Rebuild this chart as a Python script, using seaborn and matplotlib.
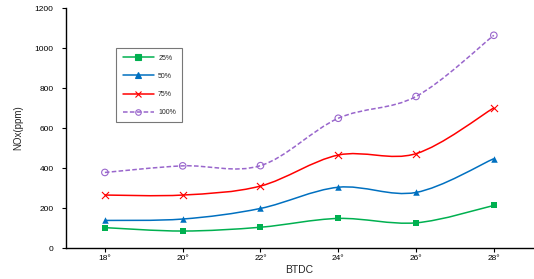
import numpy as np
import pandas as pd
import matplotlib
matplotlib.use("Agg")
import matplotlib.pyplot as plt
from matplotlib.path import Path
from matplotlib.patches import PathPatch
from matplotlib.lines import Line2D
import seaborn as sns

timing = [18, 20, 22, 24, 26, 28]
tick_labels = ["18°", "20°", "22°", "24°", "26°", "28°"]
load_25 = [102, 85, 104, 148, 126, 213]
load_50 = [138, 145, 198, 304, 278, 447]
load_75 = [265, 265, 310, 465, 472, 701]
load_100 = [378, 411, 412, 649, 758, 1064]
series_names = ["25%", "50%", "75%", "100%"]

sns.set_theme(style="white")
plt.rcParams["font.family"] = ["Liberation Sans", "DejaVu Sans"]

df = pd.DataFrame({
    "BTDC": timing * 4,
    "NOx": load_25 + load_50 + load_75 + load_100,
    "Load": sum([[n] * len(timing) for n in series_names], []),
})

colors = {"25%": "#00B050", "50%": "#0070C0", "75%": "#FF0000", "100%": "#9966CC"}
markers = {"25%": "s", "50%": "^", "75%": "x", "100%": "o"}
styles = {"25%": "-", "50%": "-", "75%": "-", "100%": (0, (3, 1.5))}

fig = plt.figure(figsize=(5.34, 2.79), dpi=100)
ax = fig.add_axes([0.1236, 0.111, 0.874, 0.86])


def smooth_path(xs, ys):
    pts = np.column_stack([xs, ys]).astype(float)
    verts = [pts[0]]
    codes = [Path.MOVETO]
    n = len(pts)
    for i in range(n - 1):
        p0 = pts[i - 1] if i > 0 else pts[i]
        p1 = pts[i]
        p2 = pts[i + 1]
        p3 = pts[i + 2] if i + 2 < n else pts[i + 1]
        c1 = p1 + (p2 - p0) / 6.0
        c2 = p2 - (p3 - p1) / 6.0
        verts += [c1, c2, p2]
        codes += [Path.CURVE4] * 3
    return Path(verts, codes)


handles = []
for name in series_names:
    sub = df[df["Load"] == name]
    c = colors[name]
    patch = PathPatch(smooth_path(sub["BTDC"].values, sub["NOx"].values),
                      facecolor="none", edgecolor=c, lw=1.1, linestyle=styles[name], zorder=2)
    ax.add_patch(patch)
    mfc = "none" if name == "100%" else c
    sns.scatterplot(x=sub["BTDC"], y=sub["NOx"], ax=ax, marker=markers[name],
                    s=22 if name != "75%" else 26, color=c, facecolor=mfc,
                    edgecolor=c, linewidth=0.8 if name in ("75%", "100%") else 0,
                    zorder=3, legend=False)
    handles.append(Line2D([], [], color=c, lw=1.1, linestyle=styles[name],
                          marker=markers[name], markersize=4,
                          markerfacecolor=mfc, markeredgecolor=c, markeredgewidth=0.8))

ax.set_xlim(17, 29)
ax.set_ylim(0, 1200)
ax.set_yticks(range(0, 1201, 200))
ax.set_xticks(timing)
ax.set_xticklabels(tick_labels)
ax.tick_params(axis="both", labelsize=6, length=3, width=0.8, direction="out",
               bottom=True, left=True, colors="black")
ax.tick_params(axis="x", pad=2)
ax.tick_params(axis="y", pad=6)
for s in ["top", "right"]:
    ax.spines[s].set_visible(False)
for s in ["left", "bottom"]:
    ax.spines[s].set_color("black")
    ax.spines[s].set_linewidth(1.0)
ax.set_xlabel("BTDC", fontsize=7.5, labelpad=2)
ax.set_ylabel("NOx(ppm)", fontsize=7, labelpad=8)

leg = ax.legend(handles, series_names, loc="upper left",
                bbox_to_anchor=(113 / 534, 1 - 45 / 279), bbox_transform=fig.transFigure,
                fontsize=5, frameon=True, fancybox=False, edgecolor="#555555",
                handlelength=4.5, labelspacing=1.6, borderpad=0.9, handletextpad=0.6)
leg.get_frame().set_linewidth(0.8)

fig.savefig("out.png", dpi=100)
